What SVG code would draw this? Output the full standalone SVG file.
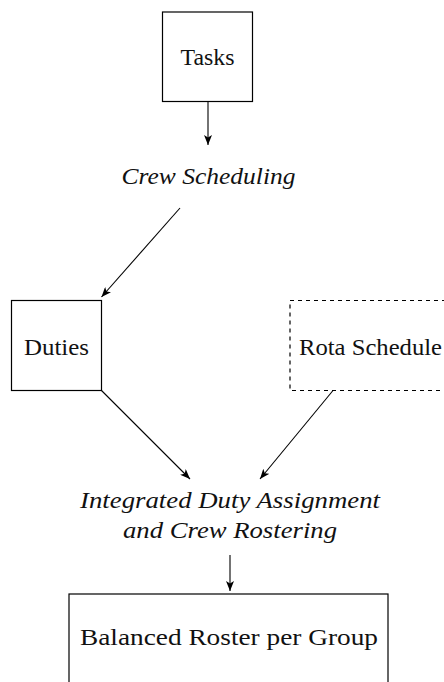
<svg xmlns="http://www.w3.org/2000/svg" width="444" height="682" viewBox="0 0 444 682">
  <style>
    .box { fill: none; stroke: #000; stroke-width: 1.2; }
    .dashed { stroke-dasharray: 4 4; }
    .lbl { font-family: "Liberation Serif", "DejaVu Serif", serif; font-size: 23px; fill: #111; text-anchor: middle; }
    .proc { font-family: "Liberation Serif", "DejaVu Serif", serif; font-size: 23px; font-style: italic; fill: #111; text-anchor: middle; }
    .edge { stroke: #000; stroke-width: 1.1; fill: none; marker-end: url(#tip); }
  </style>
  <defs>
    <marker id="tip" viewBox="0 0 10 8" refX="10" refY="4" markerWidth="10" markerHeight="8" markerUnits="userSpaceOnUse" orient="auto">
      <path d="M0,0 L10,4 L0,8 L2.5,4 Z" fill="#000"/>
    </marker>
  </defs>
  <rect width="444" height="682" fill="#fff"/>

  <g id="tasks">
    <rect class="box" x="162.5" y="12" width="90" height="89.5"/>
    <text class="lbl" x="207.5" y="65" textLength="54" lengthAdjust="spacingAndGlyphs">Tasks</text>
  </g>

  <g id="crew-scheduling">
    <text class="proc" x="208.5" y="184" textLength="174" lengthAdjust="spacingAndGlyphs">Crew Scheduling</text>
  </g>

  <g id="duties">
    <rect class="box" x="11.5" y="300.5" width="90" height="90"/>
    <text class="lbl" x="56.5" y="355" textLength="65" lengthAdjust="spacingAndGlyphs">Duties</text>
  </g>

  <g id="rota-schedule">
    <rect class="box dashed" x="290" y="300.5" width="170" height="90"/>
    <text class="lbl" x="370.5" y="355" textLength="143" lengthAdjust="spacingAndGlyphs">Rota Schedule</text>
  </g>

  <g id="integrated">
    <text class="proc" x="230" y="508" textLength="300" lengthAdjust="spacingAndGlyphs">Integrated Duty Assignment</text>
    <text class="proc" x="230" y="538" textLength="214" lengthAdjust="spacingAndGlyphs">and Crew Rostering</text>
  </g>

  <g id="balanced-roster">
    <rect class="box" x="69" y="594" width="319" height="110"/>
    <text class="lbl" x="229" y="645" textLength="298" lengthAdjust="spacingAndGlyphs">Balanced Roster per Group</text>
  </g>

  <g id="connectors">
    <line class="edge" x1="208" y1="101.5" x2="208" y2="145"/>
    <line class="edge" x1="180" y1="208" x2="101.5" y2="297"/>
    <line class="edge" x1="101.5" y1="390.5" x2="190" y2="479"/>
    <line class="edge" x1="333" y1="390.5" x2="260" y2="479"/>
    <line class="edge" x1="230" y1="555" x2="230" y2="591"/>
  </g>
</svg>
